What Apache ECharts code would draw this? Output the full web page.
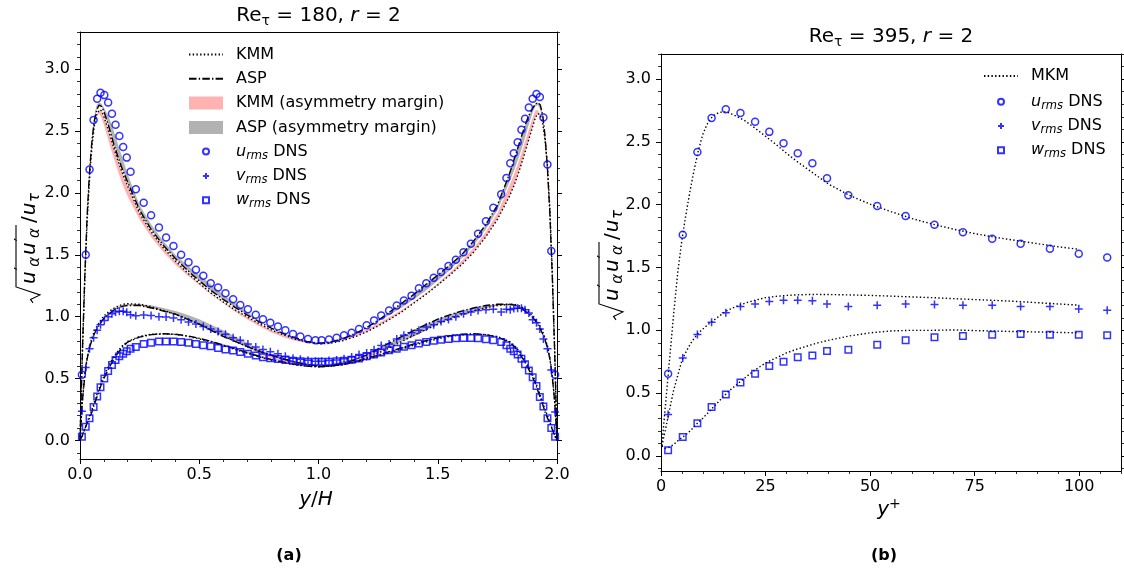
<!DOCTYPE html>
<html>
<head>
<meta charset="utf-8">
<script src="https://cdn.jsdelivr.net/npm/echarts@6/dist/echarts.min.js"></script>
<style>
  html, body { margin: 0; padding: 0; background: #fff; }
  #chart { width: 1124px; height: 572px; }
</style>
</head>
<body>
<div id="chart"></div>
<script>
const FONT = 'DejaVu Sans';
const BLUE = '#0000ff';

// ---------- Panel (a): Re_tau = 180, r = 2 ----------
// DNS sample positions across the whole channel (y/H)
const dnsYH = [
  0.008, 0.024, 0.040, 0.057, 0.072, 0.086, 0.102, 0.118, 0.134, 0.149,
  0.165, 0.181, 0.196, 0.212, 0.234, 0.267, 0.298, 0.331, 0.361, 0.392,
  0.424, 0.455, 0.486, 0.517, 0.548, 0.579, 0.610, 0.642, 0.672, 0.704,
  0.737, 0.767, 0.798, 0.830, 0.861, 0.893, 0.924, 0.956, 0.987,
  1.013, 1.044, 1.076, 1.107, 1.139, 1.170, 1.202, 1.233, 1.263, 1.296,
  1.328, 1.358, 1.390, 1.421, 1.452, 1.483, 1.514, 1.545, 1.576, 1.608,
  1.639, 1.669, 1.702, 1.733, 1.766, 1.788, 1.804, 1.819, 1.835, 1.851,
  1.866, 1.882, 1.898, 1.914, 1.928, 1.943, 1.960, 1.976, 1.992
];
const dnsU180 = [
  0.53, 1.50, 2.19, 2.59, 2.76, 2.81, 2.79, 2.73, 2.64, 2.55,
  2.46, 2.37, 2.285, 2.17, 2.03, 1.92, 1.82, 1.72, 1.64, 1.57,
  1.50, 1.44, 1.38, 1.33, 1.27, 1.235, 1.19, 1.14, 1.095, 1.06,
  1.016, 0.98, 0.95, 0.92, 0.89, 0.86, 0.84, 0.82, 0.81,
  0.81, 0.815, 0.83, 0.85, 0.87, 0.90, 0.93, 0.97, 1.01, 1.05,
  1.09, 1.13, 1.17, 1.23, 1.27, 1.315, 1.36, 1.41, 1.46, 1.52,
  1.59, 1.67, 1.77, 1.88, 1.99, 2.12, 2.24, 2.32, 2.41, 2.51,
  2.60, 2.69, 2.76, 2.80, 2.775, 2.61, 2.23, 1.53, 0.53
];
const dnsV180 = [
  0.235, 0.59, 0.74, 0.83, 0.89, 0.935, 0.97, 1.00, 1.024, 1.037,
  1.043, 1.043, 1.035, 1.016, 1.008, 1.013, 1.01, 1.00, 0.997, 0.99,
  0.976, 0.957, 0.94, 0.92, 0.90, 0.88, 0.857, 0.83, 0.81, 0.78,
  0.755, 0.735, 0.717, 0.70, 0.68, 0.665, 0.655, 0.647, 0.64,
  0.64, 0.645, 0.65, 0.66, 0.675, 0.695, 0.706, 0.733, 0.768, 0.78,
  0.82, 0.85, 0.87, 0.89, 0.916, 0.935, 0.96, 0.978, 1.00, 1.024,
  1.037, 1.05, 1.056, 1.06, 1.037, 1.06, 1.056, 1.065, 1.067, 1.067,
  1.056, 1.03, 0.976, 0.95, 0.90, 0.82, 0.74, 0.57, 0.23
];
const dnsW180 = [
  0.03, 0.11, 0.18, 0.27, 0.355, 0.43, 0.50, 0.56, 0.61, 0.65,
  0.68, 0.70, 0.72, 0.74, 0.755, 0.78, 0.79, 0.80, 0.80, 0.80,
  0.795, 0.79, 0.78, 0.77, 0.76, 0.746, 0.735, 0.727, 0.714, 0.70,
  0.687, 0.673, 0.665, 0.657, 0.65, 0.644, 0.64, 0.636, 0.636,
  0.636, 0.636, 0.64, 0.644, 0.652, 0.663, 0.68, 0.695, 0.71, 0.728,
  0.74, 0.757, 0.77, 0.784, 0.795, 0.806, 0.814, 0.82, 0.825, 0.827,
  0.827, 0.825, 0.817, 0.81, 0.795, 0.77, 0.74, 0.72, 0.695, 0.66,
  0.615, 0.565, 0.51, 0.44, 0.35, 0.275, 0.18, 0.10, 0.03
];

// Model profiles on a grid that is symmetric about the channel centre
const modelYH = [
  0, 0.005, 0.01, 0.02, 0.03, 0.04, 0.05, 0.06, 0.07, 0.08, 0.09, 0.10,
  0.12, 0.14, 0.16, 0.18, 0.20, 0.25, 0.30, 0.35, 0.40, 0.45, 0.50, 0.55,
  0.60, 0.65, 0.70, 0.75, 0.80, 0.85, 0.90, 0.95, 1.00,
  1.05, 1.10, 1.15, 1.20, 1.25, 1.30, 1.35, 1.40, 1.45, 1.50, 1.55, 1.60,
  1.65, 1.70, 1.75, 1.80, 1.82, 1.84, 1.86, 1.88, 1.90, 1.91, 1.92, 1.93,
  1.94, 1.95, 1.96, 1.97, 1.98, 1.99, 1.995, 2.0
];
const kmmU = [
  0, 0.35, 0.70, 1.29, 1.77, 2.11, 2.37, 2.54, 2.63, 2.67, 2.665, 2.62,
  2.50, 2.375, 2.255, 2.15, 2.055, 1.835, 1.68, 1.555, 1.45, 1.355, 1.27, 1.19,
  1.12, 1.055, 1.00, 0.945, 0.895, 0.855, 0.82, 0.795, 0.78,
  0.785, 0.805, 0.835, 0.875, 0.925, 0.98, 1.04, 1.11, 1.18, 1.255, 1.335, 1.42,
  1.52, 1.64, 1.785, 1.97, 2.06, 2.17, 2.29, 2.42, 2.55, 2.61, 2.64, 2.63,
  2.56, 2.43, 2.22, 1.88, 1.38, 0.76, 0.39, 0
];
const aspU = [
  0, 0.36, 0.72, 1.32, 1.82, 2.17, 2.42, 2.58, 2.67, 2.71, 2.70, 2.66,
  2.54, 2.405, 2.285, 2.18, 2.085, 1.86, 1.70, 1.575, 1.47, 1.375, 1.29, 1.21,
  1.14, 1.075, 1.015, 0.96, 0.91, 0.865, 0.83, 0.80, 0.785,
  0.795, 0.82, 0.86, 0.91, 0.97, 1.04, 1.11, 1.18, 1.26, 1.335, 1.415, 1.50,
  1.61, 1.74, 1.90, 2.15, 2.27, 2.39, 2.51, 2.62, 2.69, 2.72, 2.73, 2.71,
  2.63, 2.46, 2.20, 1.84, 1.34, 0.73, 0.37, 0
];
const kmmV = [
  0, 0.17, 0.32, 0.53, 0.67, 0.76, 0.83, 0.88, 0.92, 0.95, 0.98, 1.005,
  1.04, 1.065, 1.085, 1.10, 1.105, 1.10, 1.08, 1.05, 1.02, 0.98, 0.94, 0.89,
  0.845, 0.80, 0.76, 0.725, 0.69, 0.66, 0.635, 0.615, 0.60,
  0.60, 0.61, 0.635, 0.665, 0.705, 0.75, 0.80, 0.85, 0.895, 0.94, 0.98, 1.015,
  1.045, 1.07, 1.09, 1.10, 1.10, 1.09, 1.07, 1.04, 1.005, 0.98, 0.95, 0.92,
  0.88, 0.83, 0.76, 0.67, 0.53, 0.32, 0.17, 0
];
const aspV = [
  0, 0.17, 0.32, 0.52, 0.66, 0.75, 0.81, 0.86, 0.90, 0.93, 0.96, 0.985,
  1.02, 1.05, 1.07, 1.085, 1.09, 1.09, 1.07, 1.045, 1.02, 0.98, 0.94, 0.89,
  0.84, 0.80, 0.76, 0.72, 0.69, 0.66, 0.635, 0.615, 0.60,
  0.605, 0.62, 0.65, 0.69, 0.74, 0.79, 0.84, 0.89, 0.935, 0.98, 1.015, 1.045,
  1.07, 1.09, 1.10, 1.10, 1.095, 1.08, 1.055, 1.025, 0.99, 0.965, 0.935, 0.90,
  0.86, 0.81, 0.75, 0.66, 0.52, 0.32, 0.17, 0
];
const kmmW = [
  0, 0.02, 0.045, 0.095, 0.15, 0.20, 0.25, 0.31, 0.365, 0.42, 0.475, 0.52,
  0.60, 0.67, 0.725, 0.77, 0.80, 0.84, 0.858, 0.862, 0.856, 0.842, 0.82, 0.795,
  0.765, 0.735, 0.705, 0.675, 0.65, 0.63, 0.612, 0.60, 0.595,
  0.60, 0.612, 0.63, 0.652, 0.68, 0.71, 0.74, 0.77, 0.795, 0.82, 0.84, 0.852,
  0.858, 0.855, 0.84, 0.80, 0.77, 0.725, 0.67, 0.60, 0.52, 0.475, 0.42, 0.365,
  0.31, 0.25, 0.20, 0.15, 0.095, 0.045, 0.02, 0
];
const aspW = [
  0, 0.02, 0.04, 0.09, 0.14, 0.18, 0.23, 0.29, 0.345, 0.40, 0.455, 0.50,
  0.58, 0.65, 0.71, 0.76, 0.795, 0.835, 0.855, 0.862, 0.858, 0.845, 0.825, 0.80,
  0.77, 0.74, 0.71, 0.68, 0.655, 0.635, 0.615, 0.60, 0.595,
  0.60, 0.615, 0.635, 0.66, 0.69, 0.72, 0.75, 0.78, 0.805, 0.83, 0.845, 0.858,
  0.862, 0.855, 0.835, 0.795, 0.76, 0.71, 0.65, 0.58, 0.50, 0.455, 0.40, 0.345,
  0.29, 0.23, 0.18, 0.14, 0.09, 0.04, 0.02, 0
];

// ---------- Panel (b): Re_tau = 395, r = 2 ----------
const dnsYPlus = [
  1.7, 5.2, 8.7, 12.1, 15.5, 19.0, 22.5, 25.9, 29.3, 32.7, 36.2,
  39.7, 44.8, 51.7, 58.5, 65.4, 72.2, 79.2, 86.0, 93.0, 99.9, 106.7
];
const dnsU395 = [
  0.655, 1.76, 2.42, 2.69, 2.76, 2.73, 2.66, 2.58, 2.49, 2.41, 2.33,
  2.21, 2.075, 1.99, 1.91, 1.84, 1.78, 1.73, 1.69, 1.65, 1.61, 1.58
];
const dnsV395 = [
  0.33, 0.78, 0.967, 1.065, 1.14, 1.19, 1.21, 1.23, 1.24, 1.24, 1.235,
  1.21, 1.19, 1.20, 1.21, 1.205, 1.20, 1.20, 1.19, 1.19, 1.17, 1.16
];
const dnsW395 = [
  0.045, 0.15, 0.26, 0.39, 0.49, 0.585, 0.655, 0.715, 0.75, 0.785, 0.80,
  0.835, 0.845, 0.885, 0.92, 0.945, 0.955, 0.965, 0.97, 0.965, 0.965, 0.96
];
const mkmYPlus = [
  0.2, 1, 2, 3, 4, 5, 6, 7, 8, 9, 10, 11, 12, 13, 14, 15, 16, 18, 20,
  22.5, 25, 27.5, 30, 32.5, 35, 37.5, 40, 45, 50, 55, 60, 65, 70, 75, 80, 85, 90, 95, 100
];
const mkmU = [
  0.08, 0.38, 0.75, 1.12, 1.46, 1.72, 1.93, 2.12, 2.29, 2.44, 2.56, 2.64, 2.69, 2.72, 2.735, 2.74, 2.735, 2.705, 2.67,
  2.61, 2.545, 2.48, 2.41, 2.345, 2.285, 2.225, 2.165, 2.075, 2.005, 1.945, 1.89, 1.845, 1.805, 1.77, 1.74, 1.715, 1.69, 1.665, 1.645
];
const mkmV = [
  0.08, 0.20, 0.36, 0.52, 0.64, 0.76, 0.83, 0.89, 0.94, 0.98, 1.01, 1.04, 1.065, 1.09, 1.115, 1.14, 1.16, 1.19, 1.215,
  1.24, 1.26, 1.27, 1.278, 1.282, 1.285, 1.286, 1.285, 1.282, 1.278, 1.272, 1.266, 1.26, 1.252, 1.245, 1.238, 1.23, 1.22, 1.21, 1.20
];
const mkmW = [
  0.08, 0.06, 0.07, 0.09, 0.12, 0.145, 0.17, 0.20, 0.235, 0.27, 0.30, 0.335, 0.37, 0.405, 0.44, 0.475, 0.51, 0.565, 0.62,
  0.685, 0.74, 0.78, 0.82, 0.85, 0.875, 0.90, 0.92, 0.955, 0.98, 0.995, 1.0, 1.0, 1.003, 0.998, 0.994, 0.99, 0.987, 0.983, 0.98
];

// ---------- Tick positions ----------
const xTicksA = [0, 0.5, 1.0, 1.5, 2.0];
const yTicksA = [0, 0.5, 1.0, 1.5, 2.0, 2.5, 3.0];
const xTicksB = [0, 25, 50, 75, 100];
const yTicksB = [0, 0.5, 1.0, 1.5, 2.0, 2.5, 3.0];

function minorTicks(a, b, step) {
  const out = [];
  for (let k = Math.ceil(a / step - 1e-9); k * step <= b + 1e-9; k++) out.push(+(k * step).toFixed(6));
  return out;
}

const pairs = (xs, ys) => xs.map((x, i) => [x, ys[i]]);

// Band between a model profile and its mirror image about the channel centre
function asymmetryBand(vals) {
  const n = vals.length, upper = [], lower = [];
  for (let i = 0; i < n; i++) {
    const m = vals[n - 1 - i];
    upper.push([modelYH[i], Math.max(vals[i], m)]);
    lower.push([modelYH[i], Math.min(vals[i], m)]);
  }
  return upper.concat(lower.reverse());
}

const KMM_FILL = 'rgba(255,0,0,0.3)';
const ASP_FILL = 'rgba(0,0,0,0.3)';
const DOTTED = [1.4, 2.3];
const DASHDOT = [7.5, 2.2, 1.4, 2.2];

function bandSeries(name, vals, color) {
  const pts = asymmetryBand(vals);
  return {
    type: 'custom', name, xAxisIndex: 0, yAxisIndex: 0, z: 2, silent: true,
    itemStyle: { color }, data: pts,
    renderItem: (params, api) => params.dataIndex === 0
      ? { type: 'polygon', shape: { points: pts.map(p => api.coord(p)) }, style: { fill: color } }
      : null
  };
}
function lineSeries(name, xs, ys, dash, xi, yi) {
  return {
    type: 'line', name, xAxisIndex: xi, yAxisIndex: yi, z: 3, silent: true,
    data: pairs(xs, ys), symbol: 'none', showSymbol: false,
    itemStyle: { color: '#000' },
    lineStyle: { color: '#000', width: 1.4, type: dash }
  };
}
const PLUS = 'path://M0,5L10,5M5,0L5,10';
const SQUARE = 'path://M0,0L10,0L10,10L0,10Z';
function dnsSeries(name, xs, ys, symbol, size, xi, yi) {
  return {
    type: 'scatter', name, xAxisIndex: xi, yAxisIndex: yi, z: 4, silent: true,
    data: pairs(xs, ys), symbol, symbolSize: size, symbolKeepAspect: true,
    itemStyle: { color: 'transparent', borderColor: BLUE, borderWidth: 1.5 }
  };
}

// ---------- Axes ----------
const tickLine = { color: '#000', width: 1 };
const labelStyle = { color: '#000', fontSize: 16, fontFamily: FONT };
function majorAxis(grid, min, max, position, ticks, showLabel, fmt, margin) {
  return {
    gridIndex: grid, type: 'value', min, max, position,
    axisLine: { show: true, onZero: false, lineStyle: tickLine },
    axisTick: { show: true, length: 5, customValues: ticks, lineStyle: tickLine },
    axisLabel: Object.assign({ show: showLabel, customValues: ticks, formatter: fmt, margin }, labelStyle),
    splitLine: { show: false }
  };
}
function minorAxis(grid, min, max, position, ticks) {
  return {
    gridIndex: grid, type: 'value', min, max, position,
    axisLine: { show: false, onZero: false },
    axisTick: { show: true, length: 3, customValues: ticks, lineStyle: { color: '#000', width: 0.8 } },
    axisLabel: { show: false }, splitLine: { show: false }
  };
}
function frameAxis(grid, min, max, position) {
  return {
    gridIndex: grid, type: 'value', min, max, position,
    axisLine: { show: true, onZero: false, lineStyle: tickLine },
    axisTick: { show: false }, axisLabel: { show: false }, splitLine: { show: false }
  };
}
const f1 = v => v.toFixed(1);
const f0 = v => String(v);

const yMinA = -0.15, yMaxA = 3.3, yMinB = -0.12, yMaxB = 3.2;

const xAxis = [
  majorAxis(0, 0, 2, 'bottom', xTicksA, true, f1, 8),
  minorAxis(0, 0, 2, 'bottom', minorTicks(0, 2, 0.1)),
  frameAxis(0, 0, 2, 'top'),
  majorAxis(1, 0, 110, 'bottom', xTicksB, true, f0, 8),
  minorAxis(1, 0, 110, 'bottom', minorTicks(0, 110, 5)),
  frameAxis(1, 0, 110, 'top')
];
const yAxis = [
  majorAxis(0, yMinA, yMaxA, 'left', yTicksA, true, f1, 10),
  minorAxis(0, yMinA, yMaxA, 'left', minorTicks(yMinA, yMaxA, 0.1)),
  majorAxis(0, yMinA, yMaxA, 'right', yTicksA, false, f1, 10),
  minorAxis(0, yMinA, yMaxA, 'right', minorTicks(yMinA, yMaxA, 0.1)),
  majorAxis(1, yMinB, yMaxB, 'left', yTicksB, true, f1, 10),
  minorAxis(1, yMinB, yMaxB, 'left', minorTicks(yMinB, yMaxB, 0.1)),
  majorAxis(1, yMinB, yMaxB, 'right', yTicksB, false, f1, 10),
  minorAxis(1, yMinB, yMaxB, 'right', minorTicks(yMinB, yMaxB, 0.1))
];

// ---------- Series ----------
const series = [
  bandSeries('KMM (asymmetry margin)', kmmU, KMM_FILL),
  bandSeries('KMM (asymmetry margin)', kmmV, KMM_FILL),
  bandSeries('KMM (asymmetry margin)', kmmW, KMM_FILL),
  bandSeries('ASP (asymmetry margin)', aspU, ASP_FILL),
  bandSeries('ASP (asymmetry margin)', aspV, ASP_FILL),
  bandSeries('ASP (asymmetry margin)', aspW, ASP_FILL),
  lineSeries('KMM', modelYH, kmmU, DOTTED, 0, 0),
  lineSeries('KMM', modelYH, kmmV, DOTTED, 0, 0),
  lineSeries('KMM', modelYH, kmmW, DOTTED, 0, 0),
  lineSeries('ASP', modelYH, aspU, DASHDOT, 0, 0),
  lineSeries('ASP', modelYH, aspV, DASHDOT, 0, 0),
  lineSeries('ASP', modelYH, aspW, DASHDOT, 0, 0),
  dnsSeries('u_rms DNS', dnsYH, dnsU180, 'circle', 7, 0, 0),
  dnsSeries('v_rms DNS', dnsYH, dnsV180, PLUS, 8, 0, 0),
  dnsSeries('w_rms DNS', dnsYH, dnsW180, SQUARE, 6.5, 0, 0),
  lineSeries('MKM', mkmYPlus, mkmU, DOTTED, 3, 4),
  lineSeries('MKM', mkmYPlus, mkmV, DOTTED, 3, 4),
  lineSeries('MKM', mkmYPlus, mkmW, DOTTED, 3, 4),
  dnsSeries('u_rms DNS', dnsYPlus, dnsU395, 'circle', 7, 3, 4),
  dnsSeries('v_rms DNS', dnsYPlus, dnsV395, PLUS, 8, 3, 4),
  dnsSeries('w_rms DNS', dnsYPlus, dnsW395, SQUARE, 6.5, 3, 4)
];

// ---------- Legends ----------
const dnsLabel = {
  'u_rms DNS': '{g| }{i|u}{s|rms} DNS',
  'v_rms DNS': '{g| }{i|v}{s|rms} DNS',
  'w_rms DNS': '{g| }{i|w}{s|rms} DNS'
};
const richLegend = {
  g: { width: 8, fontSize: 16, fontFamily: FONT },
  i: { fontStyle: 'italic', fontSize: 16, fontFamily: FONT, color: '#000' },
  s: { fontStyle: 'italic', fontSize: 11.5, fontFamily: FONT, color: '#000', padding: [8, 0, 0, 0] }
};
function legendBox(data, left, top, itemHeight, gap, pad) {
  return {
    data, left, top, orient: 'vertical', padding: 0, itemWidth: 34, itemHeight,
    itemGap: gap, selectedMode: false,
    textStyle: { color: '#000', fontSize: 16, fontFamily: FONT, lineHeight: 20, padding: [0, 0, 0, pad], rich: richLegend },
    formatter: name => dnsLabel[name] || name
  };
}
const lineItem = name => ({ name, itemStyle: { opacity: 0 } });
const dnsItems = [
  { name: 'u_rms DNS', icon: 'circle' },
  { name: 'v_rms DNS', icon: PLUS },
  { name: 'w_rms DNS', icon: SQUARE }
];
// marker legends are placed by their drawn bounds, which start at the centred 6px marker
const markerInset = (34 - 6) / 2;
const legend = [
  legendBox([lineItem('KMM'), lineItem('ASP'), { name: 'KMM (asymmetry margin)', icon: 'rect' }, { name: 'ASP (asymmetry margin)', icon: 'rect' }], 188, 44.5, 13, 4.3, 8),
  legendBox(dnsItems, 188 + markerInset, 141.6, 6, 4.3, 0),
  legendBox([lineItem('MKM')], 983, 66, 13, 4.3, 8),
  legendBox(dnsItems, 983 + markerInset, 91.7, 6, 4.3, 0)
];

// ---------- Text: titles, axis titles, captions ----------
const richBase = {
  n: { fontSize: 20, fontFamily: FONT, color: '#000' },
  i: { fontSize: 20, fontFamily: FONT, fontStyle: 'italic', color: '#000' },
  s: { fontSize: 14, fontFamily: FONT, color: '#000', padding: [11, 0, 0, 0] },
  p: { fontSize: 14, fontFamily: FONT, color: '#000', padding: [0, 0, 11, 0] }
};
function richText(text, x, y) {
  return { type: 'text', x, y, silent: true, style: { text, align: 'center', verticalAlign: 'middle', rich: richBase } };
}

// Rotated y-axis title: sqrt(u'_a u'_a) / u_tau
function rootLabel(cx, cy) {
  const F = 20, S = 15;
  const ctx = document.createElement('canvas').getContext('2d');
  const w = (t, sz, it) => { ctx.font = (it ? 'italic ' : '') + sz + 'px "' + FONT + '"'; return ctx.measureText(t).width; };
  const parts = [];
  const put = (t, x, y, sz, it) => parts.push({
    type: 'text', x, y, silent: true,
    style: { text: t, fontSize: sz, fontStyle: it ? 'italic' : 'normal', fontFamily: FONT, fill: '#000', align: 'left', verticalAlign: 'middle' }
  });
  const radW = 16;
  let x = radW + 3;
  for (let k = 0; k < 2; k++) {
    put('u', x, 0, F, true); x += w('u', F, true) + 1;
    put('\u2032', x, -7.5, S, false); x += w('\u2032', S, false);
    put('\u03b1', x, 5.5, S, true); x += w('\u03b1', S, true) + 2;
  }
  const barEnd = x + 1;
  x += 3;
  put('/', x, 0, F, false); x += w('/', F, false) + 1;
  put('u', x, 0, F, true); x += w('u', F, true) + 0.5;
  put('\u03c4', x, 5.5, S, true); x += w('\u03c4', S, true);
  const radical = {
    type: 'polyline', silent: true,
    shape: { points: [[0, 3], [3.5, 0.5], [8, 10], [radW, -14], [barEnd, -14]] },
    style: { stroke: '#000', lineWidth: 1.1, fill: null }
  };
  return {
    type: 'group', x: cx, y: cy, rotation: Math.PI / 2,
    children: [{ type: 'group', x: -x / 2, y: 0, children: [radical].concat(parts) }]
  };
}

const graphic = [
  richText('{n|Re}{s|\u03c4}{n| = 180, }{i|r}{n| = 2}', 318.5, 16),
  richText('{n|Re}{s|\u03c4}{n| = 395, }{i|r}{n| = 2}', 891, 37),
  richText('{i|y}{n|/}{i|H}', 316, 500),
  richText('{i|y}{p|+}', 889, 510),
  rootLabel(30, 248),
  rootLabel(613, 265),
  { type: 'text', x: 289, y: 556, silent: true, style: { text: '(a)', align: 'center', verticalAlign: 'middle', fontSize: 16, fontWeight: 'bold', fontFamily: FONT, fill: '#000' } },
  { type: 'text', x: 884, y: 556, silent: true, style: { text: '(b)', align: 'center', verticalAlign: 'middle', fontSize: 16, fontWeight: 'bold', fontFamily: FONT, fill: '#000' } }
];

const chart = echarts.init(document.getElementById('chart'), null, { renderer: 'canvas' });
chart.setOption({
  animation: false,
  backgroundColor: '#fff',
  textStyle: { fontFamily: FONT },
  grid: [
    { left: 80, top: 32, width: 477, height: 427 },
    { left: 661, top: 54, width: 460, height: 417 }
  ],
  xAxis, yAxis, legend, series, graphic
});
</script>
</body>
</html>
